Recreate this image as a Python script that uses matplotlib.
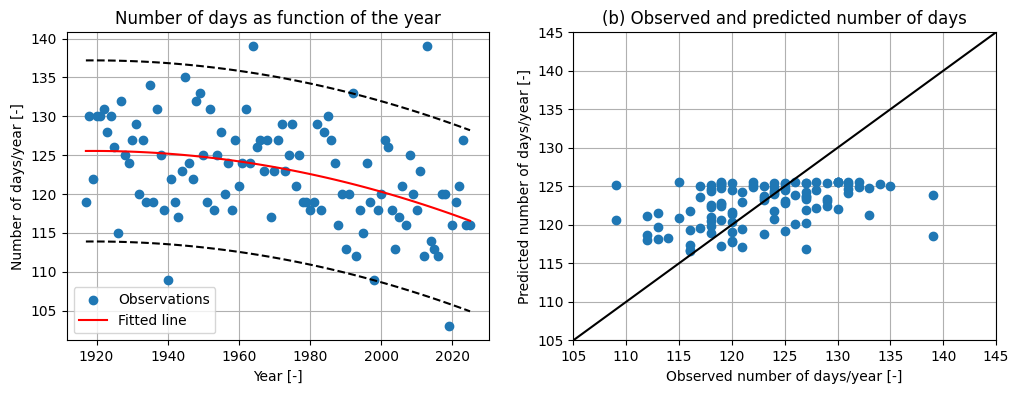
import numpy as np
import matplotlib
matplotlib.use("Agg")
import matplotlib.pyplot as plt

years = list(range(1917, 2026))
days = [
    119, 130, 122, 130, 130, 131, 128, 130, 126, 115,   # 1917-1926
    132, 125, 124, 127, 129, 120, 127, 119, 134, 119,   # 1927-1936
    131, 125, 118, 109, 122, 119, 117, 123, 135, 124,   # 1937-1946
    122, 132, 133, 125, 119, 131, 118, 125, 128, 120,   # 1947-1956
    124, 118, 127, 121, 124, 131, 124, 139, 126, 127,   # 1957-1966
    123, 127, 117, 123, 127, 129, 123, 125, 129, 121,   # 1967-1976
    125, 119, 119, 118, 119, 129, 118, 128, 130, 127,   # 1977-1986
    124, 116, 120, 113, 120, 133, 112, 118, 115, 124,   # 1987-1996
    119, 109, 118, 120, 127, 126, 118, 113, 117, 121,   # 1997-2006
    116, 125, 120, 118, 123, 112, 139, 114, 113, 112,   # 2007-2016
    120, 120, 103, 116, 119, 121, 127, 116, 116,        # 2017-2025
]

x = np.array(years, dtype=float)
y = np.array(days, dtype=float)

coef = np.polyfit(x, y, 2)
pred = np.polyval(coef, x)
resid = y - pred
s = np.std(resid, ddof=3)
half = 1.96 * s

fig = plt.figure(figsize=(10.18, 3.93), dpi=100)
ax1 = fig.add_axes([0.0655, 0.1341, 0.4151, 0.7837])
ax2 = fig.add_axes([0.5632, 0.1341, 0.4152, 0.7837])

ax1.scatter(x, y, label="Observations", zorder=2)
ax1.plot(x, pred, color="red", label="Fitted line", zorder=3)
ax1.plot(x, pred + half, "k--", zorder=3)
ax1.plot(x, pred - half, "k--", zorder=3)
ax1.set_title("Number of days as function of the year")
ax1.set_xlabel("Year [-]")
ax1.set_ylabel("Number of days/year [-]")
ax1.grid(True)
ax1.set_axisbelow(True)
ax1.legend(loc="lower left")

ax2.scatter(y, pred, zorder=2)
ax2.plot([105, 145], [105, 145], color="black", zorder=3)
ax2.set_xlim(105, 145)
ax2.set_ylim(105, 145)
ax2.set_title("(b) Observed and predicted number of days")
ax2.set_xlabel("Observed number of days/year [-]")
ax2.set_ylabel("Predicted number of days/year [-]")
ax2.grid(True)
ax2.set_axisbelow(True)

fig.savefig("out.png", dpi=100)
